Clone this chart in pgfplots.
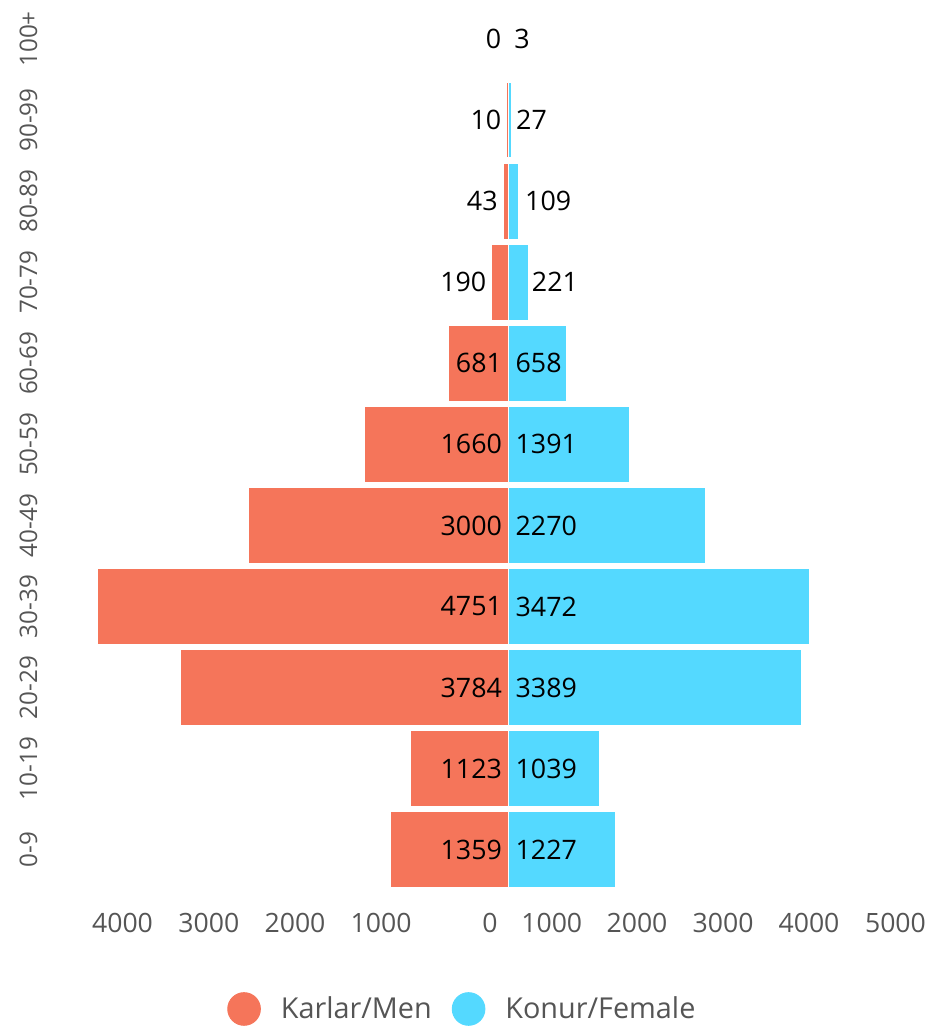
\documentclass[border=0pt]{standalone}
\usepackage{fontspec}
\setmainfont{Open Sans}
\usepackage{pgfplots}
\usepackage{pgfplotstable}
\pgfplotsset{compat=1.18}
\definecolor{menc}{RGB}{245,117,90}
\definecolor{femc}{RGB}{84,217,255}
\definecolor{tickc}{RGB}{85,85,85}

\pgfplotstableread{
y men fem
0 -1359 1227
1 -1123 1039
2 -3784 3389
3 -4751 3472
4 -3000 2270
5 -1660 1391
6 -681 658
7 -190 221
8 -43 109
9 -10 27
10 0 3
}\pop

\pgfplotstableread{
y x lab
0 -72 1359
1 -72 1123
2 -72 3784
3 -72 4751
4 -72 3000
5 -72 1660
6 -72 681
7 -253 190
8 -122 43
9 -79 10
10 -79 0
}\menlab

\pgfplotstableread{
y x lab
0 78 1227
1 78 1039
2 78 3389
3 78 3472
4 78 2270
5 78 1391
6 78 658
7 267 221
8 189 109
9 85 27
10 62 3
}\femlab

\begin{document}
\begin{tikzpicture}
\begin{axis}[
  at={(0,0)}, anchor=south west,
  scale only axis, width=439pt, height=450pt,
  xmin=-5313, xmax=4861, ymin=-0.620, ymax=10.481,
  clip=false,
  axis line style={draw=none}, major tick length=0pt, minor tick num=0,
  scaled x ticks=false,
  xtick={-4473,-3473,-2474,-1477,-214,501,1489,2486,3482,4484},
  xticklabels={4000,3000,2000,1000,0,1000,2000,3000,4000,5000},
  ytick={0,...,10},
  yticklabels={0-9,10-19,20-29,30-39,40-49,50-59,60-69,70-79,80-89,90-99,100+},
  xticklabel style={font=\fontsize{13.3}{16}\selectfont, text=tickc, anchor=base, yshift=-16.35pt, inner sep=0pt},
  yticklabel style={font=\fontsize{12.1}{14}\selectfont, text=tickc, xshift=-6.5pt, rotate=90, anchor=base, inner sep=0pt},
  extra x ticks={0}, extra x tick labels={},
  extra x tick style={grid=major, major grid style={white, line width=0.6pt}},
  axis on top,
  legend columns=2, reverse legend,
  legend style={draw=none, fill=none, inner sep=0pt, outer sep=0pt,
    at={(axis description cs:0.2019,-0.1211)}, anchor=west,
    font=\fontsize{14.4}{17}\selectfont, text=tickc,
    /tikz/every odd column/.append style={column sep=10pt},
    /tikz/every even column/.append style={column sep=10pt},
    nodes={inner sep=0pt}},
]
\addplot[xbar, bar width=0.91, bar shift=0pt, fill=femc, draw=femc, line width=0.5pt,
  legend image code/.code={\fill[femc] (0pt,0pt) circle (8.15pt);}]
  table[x=fem, y=y] {\pop};
\addlegendentry{Konur/Female}
\addplot[xbar, bar width=0.91, bar shift=0pt, fill=menc, draw=menc, line width=0.5pt,
  legend image code/.code={\fill[menc] (0pt,0pt) circle (8.15pt);}]
  table[x=men, y=y] {\pop};
\addlegendentry{Karlar/Men}

\addplot[draw=none, mark=none, forget plot, nodes near coords, point meta=explicit symbolic,
  nodes near coords align=horizontal,
  every node near coord/.append style={anchor=east, inner sep=0pt, font=\fontsize{13.4}{16}\selectfont, text=black}]
  table[x=x, y=y, meta=lab] {\menlab};
\addplot[draw=none, mark=none, forget plot, nodes near coords, point meta=explicit symbolic,
  nodes near coords align=horizontal,
  every node near coord/.append style={anchor=west, inner sep=0pt, font=\fontsize{13.4}{16}\selectfont, text=black}]
  table[x=x, y=y, meta=lab] {\femlab};
\end{axis}
\pgfresetboundingbox
\path[use as bounding box] (-25pt,-63pt) rectangle (439pt,450pt);
\end{tikzpicture}
\end{document}
